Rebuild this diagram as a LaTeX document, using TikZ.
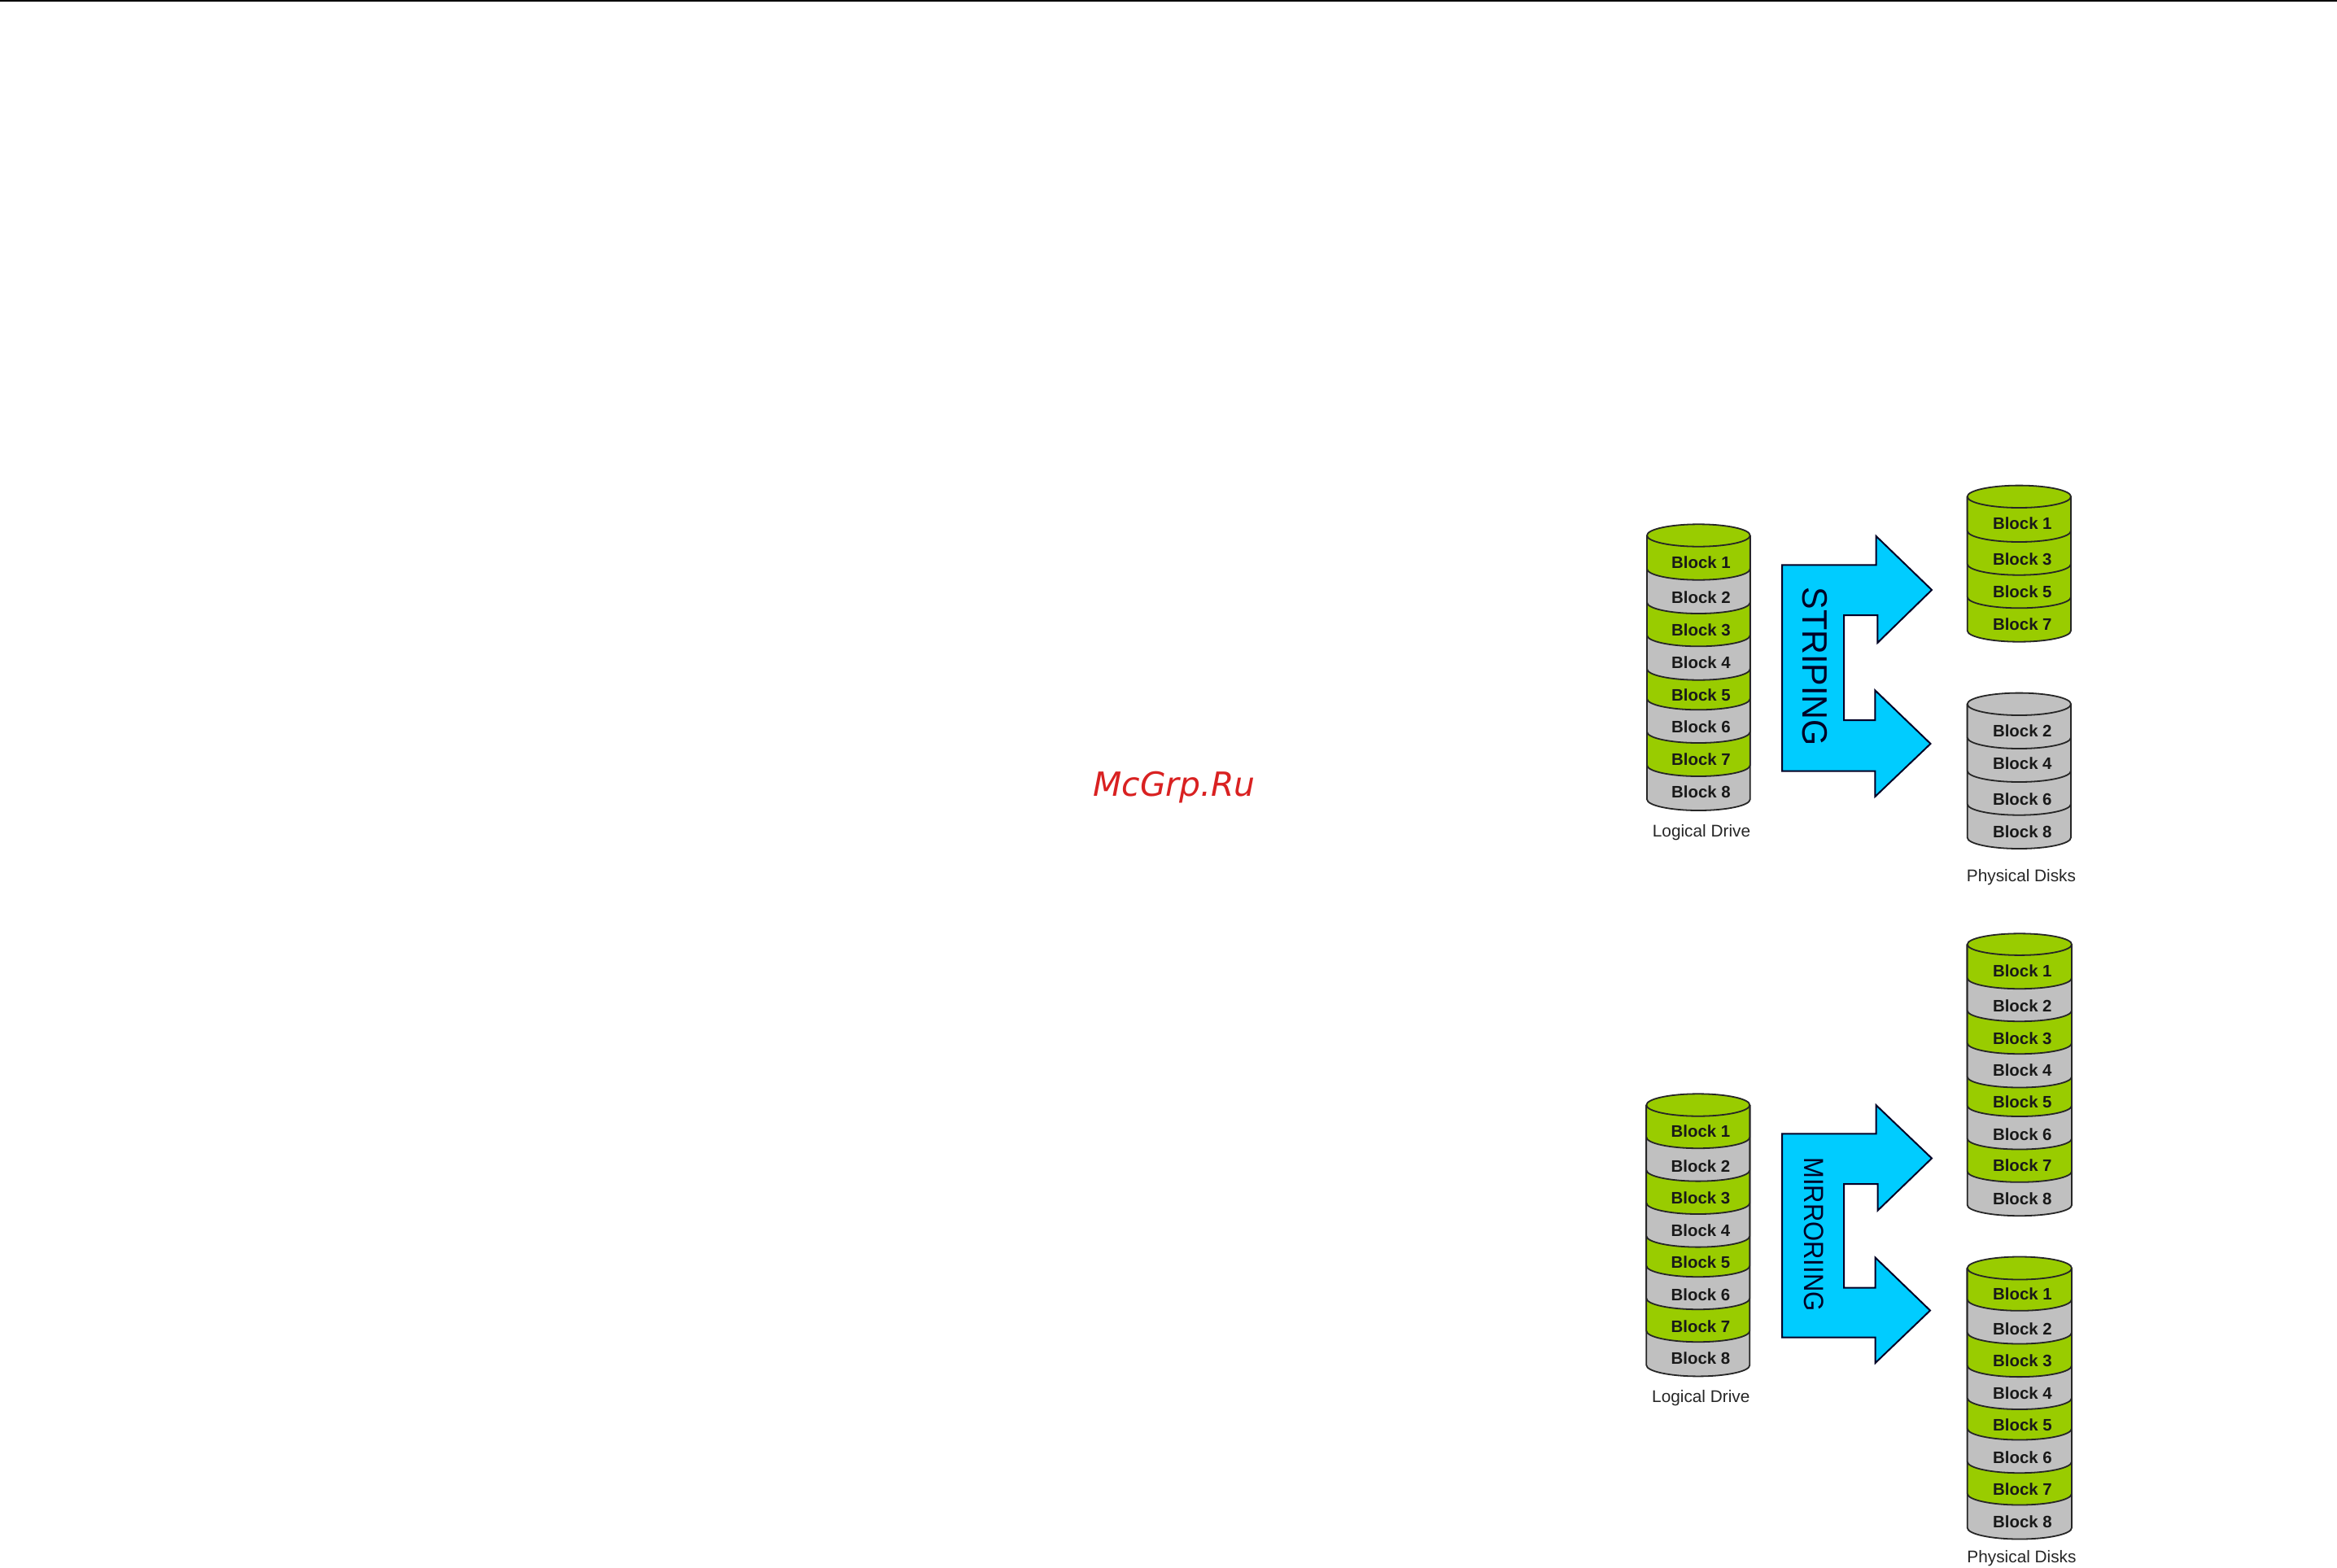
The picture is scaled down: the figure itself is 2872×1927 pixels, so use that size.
\documentclass[tikz,border=0pt]{standalone}
\usepackage{fontspec}
\setmainfont{Liberation Sans}
\newfontfamily\wmfont{DejaVu Sans}
\definecolor{blockgreen}{HTML}{99CC00}
\definecolor{blockgray}{HTML}{C0C0C0}
\definecolor{arrowblue}{HTML}{00CCFF}
\definecolor{wmred}{HTML}{D92121}
\tikzset{
  band/.style={line width=1.8pt,draw=black!85},
  blocklabel/.style={inner sep=0pt,font=\fontsize{20.4}{24}\selectfont\bfseries,text=black!90},
  caption/.style={inner sep=0pt,font=\fontsize{20.8}{24}\selectfont,text=black!85},
  bigarrow/.style={fill=arrowblue,draw=black!85!blue,line width=2pt,line join=miter},
  arrowtext/.style={inner sep=0pt,rotate=-90,text=black!85!blue}
}
% #1 name, #2 left, #3 right, #4 top-ellipse centre y, #5 ry, #6 text x, #7 top colour, #8 list bottom/colour/texty/number (bottom band first)
\newcommand{\drum}[8]{
  \foreach \by/\col/\ty/\num in {#8}{
    \pgfmathsetmacro\ya{\by-#5}
    \pgfmathsetmacro\rx{(#3-#2)/2}
    \fill[\col] (#2,#4) -- (#2,\ya) arc[start angle=180,end angle=0,x radius=\rx,y radius=#5] -- (#3,#4) -- cycle;
    \draw[band] (#2,#4) -- (#2,\ya) arc[start angle=180,end angle=0,x radius=\rx,y radius=#5] -- (#3,#4);
  }
  \pgfmathsetmacro\rx{(#3-#2)/2}
  \pgfmathsetmacro\cx{(#3+#2)/2}
  \draw[band,fill=#7] (\cx,#4) ellipse[x radius=\rx,y radius=#5];
  \foreach \by/\col/\ty/\num in {#8}{
    \node[blocklabel] (#1-\num) at (#6,\ty) {Block \num};
  }
}
\begin{document}
\begin{tikzpicture}[x=1pt,y=-1pt]
\useasboundingbox (0,0) rectangle (2872,1927);
\fill[white] (0,0) rectangle (2872,1927);
\fill[black] (0,0) rectangle (2872,2);

\node[inner sep=0pt,anchor=base west,text=wmred,font=\fontsize{40.9}{48}\selectfont\wmfont\itshape] (wm) at (1343,978) {McGrp.Ru};

% STRIPING
\drum{sl}{2024}{2150.7}{658}{13.7}{2090.5}{blockgreen}{
  996/blockgray/973.5/8,954/blockgreen/933.5/7,913/blockgray/893.5/6,872.3/blockgreen/854.5/5,
  835.7/blockgray/814.5/4,794.3/blockgreen/774.5/3,754/blockgray/734.5/2,712.7/blockgreen/691.2/1}
\drum{sa}{2417.7}{2545}{610.3}{13.7}{2485.3}{blockgreen}{
  788.7/blockgreen/766.7/7,747.3/blockgreen/727/5,706.7/blockgreen/687/3,666/blockgreen/643.3/1}
\drum{sb}{2417.7}{2545}{865.3}{13.7}{2485.3}{blockgray}{
  1043/blockgray/1021.7/8,1001.7/blockgray/981.7/6,961/blockgray/938/4,920/blockgray/898/2}
\node[caption] (slc) at (2091,1022.7) {Logical Drive};
\node[caption] (spc) at (2484,1078.3) {Physical Disks};
\draw[bigarrow] (2190,694.3) -- (2305.7,694.3) -- (2305.7,659) -- (2374,725) -- (2307.3,790) -- (2307.3,756)
  -- (2266,756) -- (2266,885) -- (2304.3,885) -- (2304.3,848.3) -- (2372.5,914) -- (2304.3,979) -- (2304.3,947.7)
  -- (2190,947.7) -- cycle;
\node[arrowtext,font=\fontsize{43.3}{46}\selectfont] (st) at (2230.5,819.3) {\scalebox{0.953}[1]{STRIPING}};

% MIRRORING
\drum{ml}{2023.3}{2150.3}{1358}{13.7}{2090}{blockgreen}{
  1691.4/blockgray/1669.6/8,1649.2/blockgreen/1630/7,1609.2/blockgray/1591/6,1569.2/blockgreen/1551.6/5,
  1532.6/blockgray/1512.6/4,1492/blockgreen/1472.6/3,1451.6/blockgray/1433.3/2,1411.2/blockgreen/1390.3/1}
\drum{ma}{2417.7}{2546}{1160.6}{13.3}{2485.3}{blockgreen}{
  1494.2/blockgray/1473/8,1452.8/blockgreen/1432.6/7,1412.5/blockgray/1394.2/6,1372/blockgreen/1354.2/5,
  1336.5/blockgray/1315.2/4,1295.2/blockgreen/1275.9/3,1255.2/blockgray/1236.5/2,1215.2/blockgreen/1193.2/1}
\drum{mb}{2417.7}{2546}{1558.5}{14}{2485.5}{blockgreen}{
  1891.5/blockgray/1869.8/8,1849.5/blockgreen/1830.3/7,1810.2/blockgray/1790.8/6,1769.5/blockgreen/1751.5/5,
  1732/blockgray/1712.2/4,1692.1/blockgreen/1672.7/3,1651.5/blockgray/1633.3/2,1610.8/blockgreen/1590.3/1}
\node[caption] (mlc) at (2090.3,1718.4) {Logical Drive};
\node[caption] (mpc) at (2484.5,1914.7) {Physical Disks};
\draw[bigarrow] (2190,1393.3) -- (2305.7,1393.3) -- (2305.7,1358.3) -- (2374,1423.5) -- (2307.6,1487.6) -- (2307.6,1455)
  -- (2266,1455) -- (2266,1582.5) -- (2304.6,1582.5) -- (2304.6,1545.5) -- (2372,1610.5) -- (2304.6,1675) -- (2304.6,1643.5)
  -- (2190,1643.5) -- cycle;
\node[arrowtext,font=\fontsize{34}{36}\selectfont] (mt) at (2229.5,1517) {\scalebox{0.911}[1]{MIRRORIING}};
\end{tikzpicture}
\end{document}
